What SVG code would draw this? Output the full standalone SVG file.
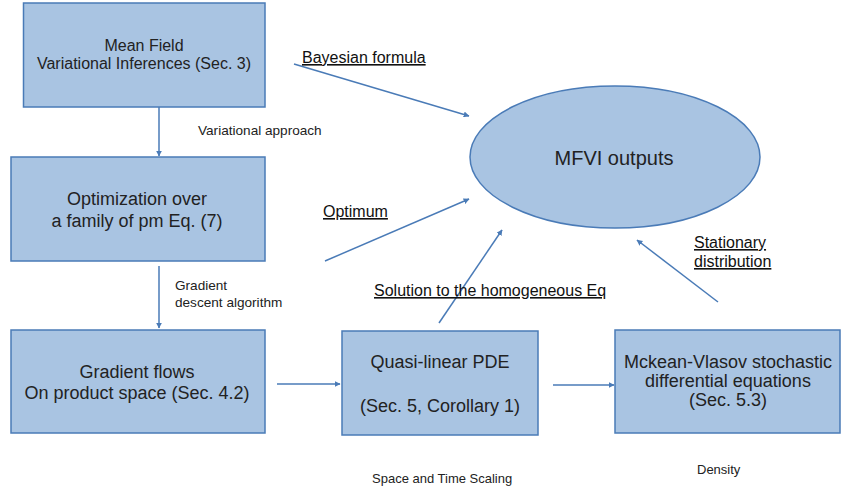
<svg xmlns="http://www.w3.org/2000/svg" width="842" height="491" viewBox="0 0 842 491">
<style>
.box{fill:#a9c4e2;stroke:#4a7bb7;stroke-width:1.5}
.t{font-family:"Liberation Sans",Arial,sans-serif;fill:#222;text-anchor:middle}
.b16{font-size:16px}
.b18{font-size:18px}
.s{font-family:"Liberation Sans",Arial,sans-serif;fill:#222;font-size:13px}
.s2{font-size:13.6px}
.u{font-family:"Liberation Sans",Arial,sans-serif;fill:#111;font-size:16px;text-decoration:underline}
.c{stroke:#4a7bb7;stroke-width:1.5;fill:none;marker-end:url(#ah)}
</style>
<defs>
<marker id="ah" viewBox="0 0 10 10" refX="9" refY="5" markerWidth="6" markerHeight="6" orient="auto" markerUnits="userSpaceOnUse">
<path d="M0,0 L10,5 L0,10 z" fill="#4a7bb7"/>
</marker>
</defs>
<rect width="842" height="491" fill="#ffffff"/>
<g id="connectors">
<line class="c" x1="159" y1="107" x2="159" y2="156"/>
<line class="c" x1="159" y1="266" x2="159" y2="328"/>
<line class="c" x1="277" y1="384" x2="340" y2="384"/>
<line class="c" x1="553" y1="385" x2="614" y2="385"/>
<line class="c" x1="294" y1="64" x2="469" y2="116"/>
<line class="c" x1="325" y1="261" x2="469" y2="199"/>
<line class="c" x1="439" y1="323" x2="502" y2="230"/>
<line class="c" x1="718" y1="302" x2="637" y2="240"/>
</g>
<g id="mean-field">
<rect class="box" x="23.5" y="3" width="241.5" height="104"/>
<text class="t b16" x="144" y="51">Mean Field</text>
<text class="t b16" x="144" y="69">Variational Inferences (Sec. 3)</text>
</g>
<g id="optimization">
<rect class="box" x="11" y="157" width="254" height="104"/>
<text class="t b18" x="137" y="205">Optimization over</text>
<text class="t b18" x="137" y="227">a family of pm Eq. (7)</text>
</g>
<g id="gradient-flows">
<rect class="box" x="11" y="330" width="254" height="103"/>
<text class="t b18" x="137" y="378">Gradient flows</text>
<text class="t b18" x="137" y="399">On product space (Sec. 4.2)</text>
</g>
<g id="quasi-linear">
<rect class="box" x="342" y="331" width="196" height="104"/>
<text class="t b18" x="440" y="368">Quasi-linear PDE</text>
<text class="t b18" x="440" y="412">(Sec. 5, Corollary 1)</text>
</g>
<g id="mckean-vlasov">
<rect class="box" x="615" y="330" width="225" height="103"/>
<text class="t b18" x="728" y="368">Mckean-Vlasov stochastic</text>
<text class="t b18" x="728" y="387">differential equations</text>
<text class="t b18" x="728" y="406">(Sec. 5.3)</text>
</g>
<g id="mfvi-outputs">
<ellipse class="box" cx="615" cy="157" rx="145" ry="71"/>
<text class="t" style="font-size:20px" x="614" y="165">MFVI outputs</text>
</g>
<g id="labels">
<text class="s s2" x="198" y="135">Variational approach</text>
<text class="s s2" x="175" y="290">Gradient</text>
<text class="s s2" x="175" y="307">descent algorithm</text>
<text class="s" x="372" y="483">Space and Time Scaling</text>
<text class="s" x="697" y="474">Density</text>
<text class="u" x="302" y="63">Bayesian formula</text>
<text class="u" x="323" y="217">Optimum</text>
<text class="u" x="374" y="296">Solution to the homogeneous Eq</text>
<text class="u" x="694" y="248">Stationary</text>
<text class="u" x="694" y="267">distribution</text>
</g>
</svg>
